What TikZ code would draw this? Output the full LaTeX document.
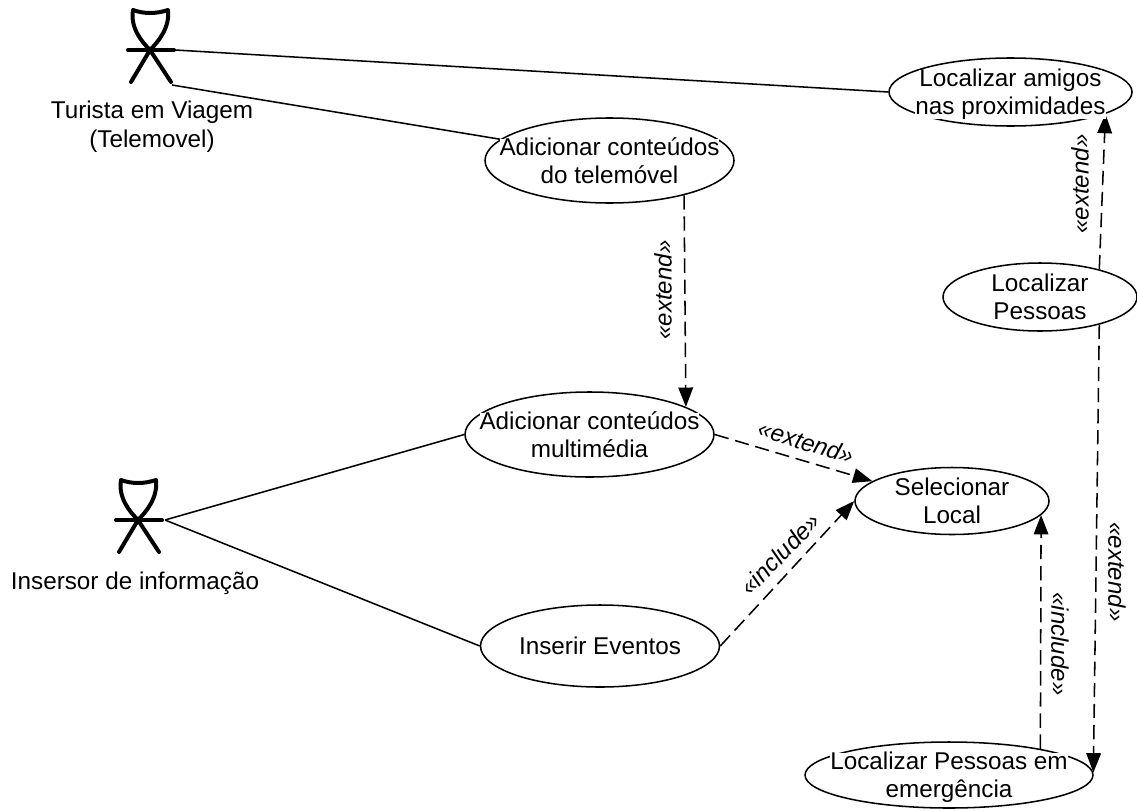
\documentclass[tikz,border=0pt]{standalone}
\usepackage{fontspec}
\setmainfont{Liberation Sans}
\usetikzlibrary{arrows.meta,shapes.geometric}
\tikzset{
  uc/.style={ellipse,draw,line width=1.15pt,inner sep=0pt,fill=white},
  lineup/.style={inner sep=0pt,fill=white,text height=12.5pt,text depth=3.5pt,font=\fontsize{18.2}{21}\selectfont,yshift=8.5pt},
  linedn/.style={lineup,yshift=-21pt},
  plainlbl/.style={align=center,inner sep=0pt,font=\fontsize{18.2}{21.5}\selectfont},
  stereo/.style={inner sep=0pt,font=\fontsize{18}{20}\selectfont\itshape},
  assoc/.style={line width=1.15pt},
  dep/.style={line width=1.15pt,dash pattern=on 10.8pt off 5pt,-{Triangle[length=14.5pt,width=11pt]}},
  stick/.style={line width=3pt,line cap=round,line join=round}
}
\newcommand{\actorfig}[2]{%
  \draw[stick] (#1-17,#2-40) .. controls (#1-6,#2-36) and (#1+6,#2-36) .. (#1+18,#2-40)
     .. controls (#1+20,#2-22) and (#1+8,#2-8) .. (#1,#2)
     .. controls (#1-8,#2-8) and (#1-20,#2-22) .. (#1-17,#2-40) -- cycle;
  \draw[stick] (#1-22,#2) -- (#1+24,#2);
  \draw[stick] (#1,#2) -- (#1-19,#2+32);
  \draw[stick] (#1,#2) -- (#1+21,#2+32);
}
\begin{document}
\begin{tikzpicture}[x=0.75pt,y=-0.75pt]
\useasboundingbox (0,0) rectangle (1137,810);
\fill[white] (0,0) rectangle (1137,810);
% actors
\actorfig{150}{50}
\actorfig{138}{520}
\coordinate (a1arm) at (175,50);
\coordinate (a1leg) at (172,85);
\coordinate (a2arm) at (165,520);
\node[plainlbl] (a1txt) at (152,127) {Turista em Viagem\\(Telemovel)};
\node[plainlbl] (a2txt) at (135,583) {Insersor de informação};
% use cases
\node[uc,minimum width=182.25pt,minimum height=51pt] (amigos) at (1010.5,92) {};
\node[uc,minimum width=145.5pt,minimum height=51pt] (pessoas) at (1040,297) {};
\node[uc,minimum width=186.75pt,minimum height=63.75pt] (tele) at (609.5,160.5) {};
\node[uc,minimum width=186.75pt,minimum height=63.75pt] (multi) at (589.5,434.5) {};
\node[uc,minimum width=145.5pt,minimum height=50.25pt] (sel) at (952,501) {};
\node[uc,minimum width=179.25pt,minimum height=61.5pt] (ev) at (600,646) {};
\node[uc,minimum width=216pt,minimum height=49.5pt] (emer) at (949,775) {};
% connectors
\draw[assoc] (a1arm) -- (amigos.west);
\draw[assoc] (a1leg) -- (tele.169.6);
\draw[assoc] (a2arm) -- (multi.west);
\draw[assoc] (a2arm) -- (ev.west);
\draw[dep] (tele.-25) -- (multi.16.7);
\draw[dep] (multi.east) -- (sel.166.6);
\draw[dep] (ev.east) -- (sel.west);
\draw[dep] (emer.16.8) -- (sel.-9);
\draw[dep] (pessoas.-25) -- (emer.1);
\draw[dep] (pessoas.25) -- (amigos.-13.4);
% use case text
\node[lineup] (amigosa) at (amigos) {Localizar amigos};
\node[linedn] (amigosb) at (amigos) {nas proximidades};
\node[lineup] (pessoasa) at (pessoas) {Localizar};
\node[linedn] (pessoasb) at (pessoas) {Pessoas};
\node[lineup] (telea) at (tele) {Adicionar conteúdos};
\node[linedn] (teleb) at (tele) {do telemóvel};
\node[lineup] (multia) at (multi) {Adicionar conteúdos};
\node[linedn] (multib) at (multi) {multimédia};
\node[lineup] (sela) at (sel) {Selecionar};
\node[linedn] (selb) at (sel) {Local};
\node[plainlbl] (evt) at (ev) {Inserir Eventos};
\node[lineup] (emera) at (emer) {Localizar Pessoas em};
\node[linedn] (emerb) at (emer) {emergência};
% stereotypes
\node[stereo,rotate=90] (s1) at (663,290) {«extend»};
\node[stereo,rotate=-17] (s2) at (806,442) {«extend»};
\node[stereo,rotate=46] (s3) at (780,554) {«include»};
\node[stereo,rotate=-90] (s4) at (1060,644) {«include»};
\node[stereo,rotate=-90] (s5) at (1117,572) {«extend»};
\node[stereo,rotate=90] (s6) at (1080,184) {«extend»};
\end{tikzpicture}
\end{document}
